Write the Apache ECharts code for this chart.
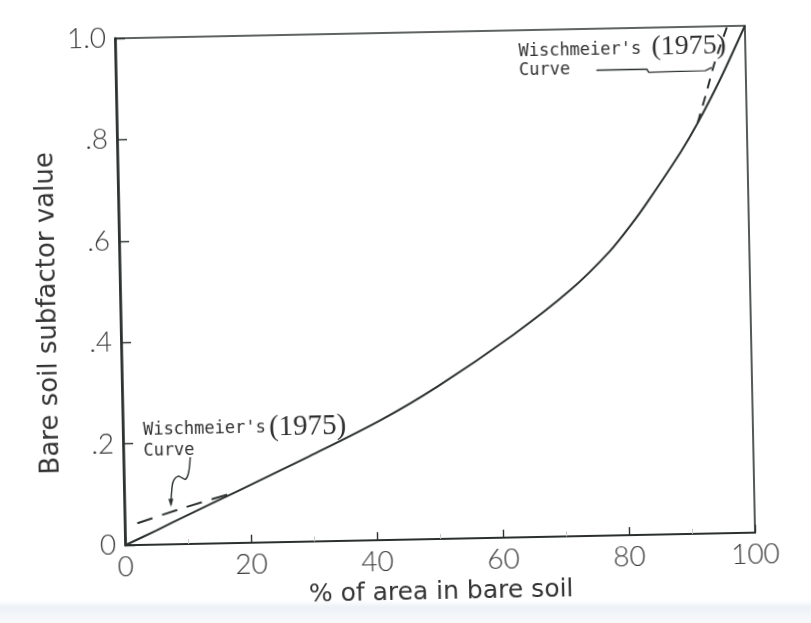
<!DOCTYPE html>
<html>
<head>
<meta charset="utf-8">
<script src="https://cdn.jsdelivr.net/npm/echarts@6/dist/echarts.min.js"></script>
<style>
  html, body { margin: 0; padding: 0; }
  body {
    width: 811px; height: 623px; overflow: hidden;
    background: linear-gradient(to bottom, #ffffff 0px, #ffffff 600px, #edf2f7 607px, #f4f6f9 616px, #f8f9fb 623px);
  }
  #chart {
    width: 811px; height: 623px;
    transform: rotate(-1.15deg);
    transform-origin: 435px 285px;
  }
</style>
</head>
<body>
<div id="chart"></div>
<script>
// Bare soil subfactor vs. percent of area in bare soil
const bareSoilPct = [0, 5, 10, 17.6, 29.3, 41, 50, 62.3, 71.4, 77.8, 81.5, 84.2, 89.5, 92.2, 95.9, 100];
const subfactor   = [0, 0.028, 0.057, 0.10, 0.167, 0.237, 0.30, 0.40, 0.485, 0.56, 0.615, 0.66, 0.755, 0.81, 0.895, 1.0];

// Wischmeier's (1975) curve where it departs from the main curve
const wischLowPct  = [2, 9, 17];
const wischLowVal  = [0.043, 0.07, 0.098];
const wischHighPct = [92.2, 93.7, 95.0, 97.2];
const wischHighVal = [0.81, 0.87, 0.925, 1.0];

// Axis tick labels
const xTickLabels = ['0', '20', '40', '60', '80', '100'];
const yTickLabels = ['0', '.2', '.4', '.6', '.8', '1.0'];

// Annotation anchors (data units)
const noteLow = {
  name: [3.2, 0.226], year: [23.2, 0.226], curve: [3.2, 0.185],
  pointer: [[10.6, 0.171], [10.3, 0.141], [9.8, 0.128], [9.2, 0.131], [8.6, 0.134], [7.9, 0.126], [7.6, 0.11], [7.4, 0.078]]
};
const noteHigh = {
  name: [64.0, 0.957], year: [85.1, 0.961], curve: [64.0, 0.92],
  leader: [[76.3, 0.918], [84.3, 0.918], [84.6, 0.912], [93.6, 0.913], [94.6, 0.919]]
};

const INK = '#2b302e';
const TICK_FONT = 'Lato, "DejaVu Sans", sans-serif';

const chart = echarts.init(document.getElementById('chart'), null, { renderer: 'canvas' });

const zip = (xs, ys) => xs.map((x, i) => [x, ys[i]]);

chart.setOption({
  animation: false,
  backgroundColor: 'transparent',
  grid: {
    left: 120, right: 61, top: 32, bottom: 84,
    show: true, borderColor: INK, borderWidth: 1.6, backgroundColor: 'transparent'
  },
  xAxis: {
    type: 'value', min: 0, max: 100, interval: 20,
    name: '% of area in bare soil', nameLocation: 'middle', nameGap: 40,
    nameTextStyle: { fontFamily: '"DejaVu Sans", sans-serif', fontSize: 25, color: '#333' },
    axisLine: { show: true, lineStyle: { color: INK, width: 2.2 } },
    axisTick: { show: true, inside: true, length: 8, lineStyle: { color: INK, width: 1.4 } },
    minorTick: { show: true, splitNumber: 2, length: 5, lineStyle: { color: '#c4c8c6', width: 1 } },
    splitLine: { show: false },
    axisLabel: {
      margin: 8, color: '#3a3a3a', fontFamily: TICK_FONT, fontWeight: 300, fontSize: 28,
      formatter: v => xTickLabels[Math.round(v / 20)]
    }
  },
  yAxis: {
    type: 'value', min: 0, max: 1, interval: 0.2,
    name: 'Bare soil subfactor value', nameLocation: 'middle', nameGap: 58, nameRotate: 90,
    nameTextStyle: { fontFamily: '"DejaVu Sans", sans-serif', fontSize: 26, color: '#333', padding: [0, 40, 0, 0] },
    axisLine: { show: true, lineStyle: { color: INK, width: 2.6 } },
    axisTick: { show: true, inside: true, length: 10, lineStyle: { color: INK, width: 1.4 } },
    splitLine: { show: false },
    axisLabel: {
      margin: 9, color: '#3a3a3a', fontFamily: TICK_FONT, fontWeight: 300, fontSize: 28,
      formatter: v => yTickLabels[Math.round(v * 5)]
    }
  },
  series: [
    {
      name: 'Bare soil subfactor', type: 'line', data: zip(bareSoilPct, subfactor),
      smooth: 0.3, symbol: 'none', lineStyle: { color: INK, width: 2 }
    },
    {
      name: "Wischmeier's (1975)", type: 'line', data: zip(wischLowPct, wischLowVal),
      smooth: 0.2, symbol: 'none', lineStyle: { color: INK, width: 2, type: [16, 10] }
    },
    {
      name: "Wischmeier's (1975) upper", type: 'line', data: zip(wischHighPct, wischHighVal),
      smooth: 0.2, symbol: 'none', lineStyle: { color: INK, width: 2, type: [10, 8] }
    }
  ]
});

// Callout labels, placed from data coordinates
const px = p => chart.convertToPixel({ gridIndex: 0 }, p);
const NOTE_FONT = '"DejaVu Sans Mono", monospace';
const YEAR_FONT = '"Liberation Serif", "DejaVu Serif", serif';

function textAt(p, text, font, size) {
  const [x, y] = px(p);
  return {
    type: 'text', x, y, silent: true,
    style: { text, fill: '#2f2f2f', fontFamily: font, fontSize: size, verticalAlign: 'middle', align: 'left' }
  };
}

const lowPointer = noteLow.pointer.map(px);
const tip = lowPointer[lowPointer.length - 1];

chart.setOption({
  graphic: [
    textAt(noteLow.name, "Wischmeier's", NOTE_FONT, 17),
    textAt(noteLow.year, '(1975)', YEAR_FONT, 29),
    textAt(noteLow.curve, 'Curve', NOTE_FONT, 17),
    {
      type: 'polyline', silent: true,
      shape: { points: lowPointer, smooth: 0.4 },
      style: { stroke: INK, lineWidth: 1.4, fill: null }
    },
    {
      type: 'polygon', silent: true,
      shape: { points: [[tip[0], tip[1] + 2], [tip[0] - 2.5, tip[1] - 6], [tip[0] + 2.5, tip[1] - 6]] },
      style: { fill: INK }
    },
    textAt(noteHigh.name, "Wischmeier's", NOTE_FONT, 17),
    textAt(noteHigh.year, '(1975)', YEAR_FONT, 28),
    textAt(noteHigh.curve, 'Curve', NOTE_FONT, 17),
    {
      type: 'polyline', silent: true,
      shape: { points: noteHigh.leader.map(px) },
      style: { stroke: INK, lineWidth: 1.4, fill: null }
    }
  ]
});
</script>
</body>
</html>
